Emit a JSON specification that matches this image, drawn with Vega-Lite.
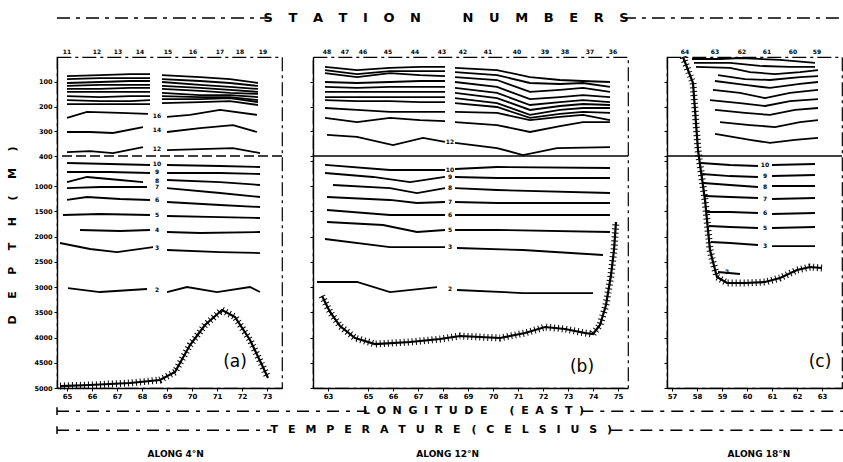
{
"$schema": "https://vega.github.io/schema/vega-lite/v6.json",
"background": "white",
"padding": {"left": 5, "top": 0, "right": 0, "bottom": 0},
"config": {
  "font": "DejaVu Sans",
  "view": {"stroke": null},
  "axis": {"labelColor": "black", "tickColor": "black", "domainColor": "black", "labelFont": "DejaVu Sans", "labelFontWeight": "bold", "labelFontSize": 7, "tickSize": 3, "grid": false, "titleColor": "black", "domainWidth": 1.4, "labelPadding": 1, "labelOverlap": false, "tickCount": 40}
},
"datasets": {
  "iso": [
    {"p":"a","id":"a1L","lon":[65.0,66.32,67.52,68.32],"depth":[77,73,69,69]},
    {"p":"a","id":"a1R","lon":[68.8,70.32,71.52,72.64],"depth":[73,81,89,105]},
    {"p":"a","id":"a2L","lon":[65.0,66.32,67.52,68.32],"depth":[89,85,85,85]},
    {"p":"a","id":"a2R","lon":[68.8,70.32,71.52,72.64],"depth":[89,97,105,117]},
    {"p":"a","id":"a3L","lon":[65.0,66.32,67.52,68.32],"depth":[105,101,97,97]},
    {"p":"a","id":"a3R","lon":[68.8,70.32,71.52,72.64],"depth":[101,113,121,129]},
    {"p":"a","id":"a4L","lon":[65.0,66.32,67.52,68.32],"depth":[117,113,113,113]},
    {"p":"a","id":"a4R","lon":[68.8,70.32,71.52,72.64],"depth":[117,125,133,141]},
    {"p":"a","id":"a5L","lon":[65.0,66.32,67.52,68.32],"depth":[129,129,125,125]},
    {"p":"a","id":"a5R","lon":[68.8,70.32,71.52,72.64],"depth":[129,137,145,149]},
    {"p":"a","id":"a6L","lon":[65.0,66.32,67.52,68.32],"depth":[141,141,141,141]},
    {"p":"a","id":"a6R","lon":[68.8,70.32,71.52,72.64],"depth":[145,154,154,162]},
    {"p":"a","id":"a7L","lon":[65.0,66.32,67.52,68.32],"depth":[158,162,158,158]},
    {"p":"a","id":"a7R","lon":[68.8,70.32,71.52,72.64],"depth":[158,162,162,174]},
    {"p":"a","id":"a8L","lon":[65.0,66.32,67.52,68.32],"depth":[174,178,178,174]},
    {"p":"a","id":"a8R","lon":[68.8,70.32,71.52,72.64],"depth":[170,170,166,182]},
    {"p":"a","id":"a9L","lon":[65.0,66.32,67.52,68.32],"depth":[190,190,190,190]},
    {"p":"a","id":"a9R","lon":[68.8,70.32,71.52,72.64],"depth":[186,182,178,194]},
    {"p":"a","id":"a10L","lon":[65.0,65.8,67.12,68.24],"depth":[246,222,226,230]},
    {"p":"a","id":"a10R","lon":[69.0,69.92,71.12,72.6],"depth":[242,234,214,234]},
    {"p":"a","id":"a11L","lon":[65.0,65.92,66.84,68.04],"depth":[303,303,307,283]},
    {"p":"a","id":"a11R","lon":[69.0,70.32,71.64,72.6],"depth":[303,287,275,303]},
    {"p":"a","id":"a12L","lon":[65.0,65.92,66.84,68.04],"depth":[384,380,388,364]},
    {"p":"a","id":"a12R","lon":[69.0,70.32,71.64,72.72],"depth":[376,372,368,388]},
    {"p":"a","id":"a13L","lon":[65.0,66.72,68.32],"depth":[539,559,578]},
    {"p":"a","id":"a13R","lon":[69.0,71.12,72.72],"depth":[578,598,618]},
    {"p":"a","id":"a14L","lon":[65.0,66.72,68.32],"depth":[717,717,737]},
    {"p":"a","id":"a14R","lon":[69.0,71.12,72.72],"depth":[737,737,757]},
    {"p":"a","id":"a15L","lon":[65.0,65.8,67.12,68.04],"depth":[916,816,876,916]},
    {"p":"a","id":"a15R","lon":[69.0,71.12,72.72],"depth":[876,916,975]},
    {"p":"a","id":"a16L","lon":[65.0,66.32,68.2],"depth":[1035,1015,1015]},
    {"p":"a","id":"a16R","lon":[69.0,71.12,72.72],"depth":[1035,1134,1213]},
    {"p":"a","id":"a17L","lon":[65.0,65.8,67.12,68.32],"depth":[1272,1213,1253,1272]},
    {"p":"a","id":"a17R","lon":[69.0,71.12,72.72],"depth":[1312,1372,1411]},
    {"p":"a","id":"a18L","lon":[64.84,66.32,68.32],"depth":[1570,1550,1570]},
    {"p":"a","id":"a18R","lon":[69.0,71.12,72.72],"depth":[1590,1610,1629]},
    {"p":"a","id":"a19L","lon":[65.52,67.12,68.32],"depth":[1867,1887,1867]},
    {"p":"a","id":"a19R","lon":[69.0,70.32,72.72],"depth":[1907,1927,1907]},
    {"p":"a","id":"a20L","lon":[64.72,65.92,67.0,68.44],"depth":[2125,2244,2304,2205]},
    {"p":"a","id":"a20R","lon":[69.0,71.12,72.72],"depth":[2264,2304,2324]},
    {"p":"a","id":"a21L","lon":[65.04,66.32,68.2],"depth":[3018,3097,3037]},
    {"p":"a","id":"a21R","lon":[69.0,69.8,71.0,72.32,72.72],"depth":[3097,2998,3097,2998,3097]},

    {"p":"b","id":"b1L","lon":[63.28,64.56,65.88,67.08,68.08],"depth":[40,53,44,40,40]},
    {"p":"b","id":"b1R","lon":[68.48,70.16,71.48,72.68,73.6,74.68],"depth":[44,53,81,93,97,101]},
    {"p":"b","id":"b2L","lon":[63.28,64.56,65.88,67.08,68.08],"depth":[53,69,57,57,57]},
    {"p":"b","id":"b2R","lon":[68.48,70.16,71.48,72.68,73.6,74.68],"depth":[61,73,105,109,105,121]},
    {"p":"b","id":"b3L","lon":[63.28,64.56,65.88,67.08,68.08],"depth":[65,81,65,73,77]},
    {"p":"b","id":"b3R","lon":[68.48,70.16,71.48,72.68,73.6,74.68],"depth":[81,93,141,133,125,141]},
    {"p":"b","id":"b4L","lon":[63.28,64.56,65.88,67.08,68.08],"depth":[101,105,101,97,97]},
    {"p":"b","id":"b4R","lon":[68.48,70.16,71.48,72.68,73.6,74.68],"depth":[101,121,170,162,154,162]},
    {"p":"b","id":"b5L","lon":[63.28,64.56,65.88,67.08,68.08],"depth":[121,125,121,121,121]},
    {"p":"b","id":"b5R","lon":[68.48,70.16,71.48,72.68,73.6,74.68],"depth":[125,145,194,182,174,182]},
    {"p":"b","id":"b6L","lon":[63.28,64.56,65.88,67.08,68.08],"depth":[141,141,141,141,141]},
    {"p":"b","id":"b6R","lon":[68.48,70.16,71.48,72.68,73.6,74.68],"depth":[145,166,214,198,190,194]},
    {"p":"b","id":"b7L","lon":[63.28,64.56,65.88,67.08,68.08],"depth":[162,162,162,162,162]},
    {"p":"b","id":"b7R","lon":[68.48,70.16,71.48,72.68,73.6,74.68],"depth":[166,186,234,214,206,206]},
    {"p":"b","id":"b8L","lon":[63.28,64.56,65.88,67.08,68.08],"depth":[174,178,178,182,182]},
    {"p":"b","id":"b8R","lon":[68.48,70.16,71.48,72.68,73.6,74.68],"depth":[186,202,246,230,222,226]},
    {"p":"b","id":"b9L","lon":[63.28,64.56,65.88,67.08,68.08],"depth":[206,214,222,222,222]},
    {"p":"b","id":"b9R","lon":[68.48,70.16,71.48,72.68,73.6,74.68],"depth":[222,226,255,242,234,255]},
    {"p":"b","id":"b10L","lon":[63.28,64.56,65.88,67.08,68.08],"depth":[246,263,246,255,259]},
    {"p":"b","id":"b10R","lon":[68.48,70.16,71.48,72.68,73.6,74.68],"depth":[263,275,303,279,263,263]},
    {"p":"b","id":"b11L","lon":[63.36,64.56,66.0,67.2,68.08],"depth":[315,323,356,327,343]},
    {"p":"b","id":"b11R","lon":[68.48,70.16,71.2,72.56,74.68],"depth":[347,368,396,368,364]},
    {"p":"b","id":"b12L","lon":[63.28,65.88,68.08],"depth":[578,678,678]},
    {"p":"b","id":"b12R","lon":[68.48,70.16,74.68],"depth":[658,618,638]},
    {"p":"b","id":"b13L","lon":[63.28,65.2,66.68,68.08],"depth":[737,816,916,816]},
    {"p":"b","id":"b13R","lon":[68.48,70.16,74.68],"depth":[816,836,836]},
    {"p":"b","id":"b14L","lon":[63.6,65.88,66.96,68.08],"depth":[975,1035,1134,1035]},
    {"p":"b","id":"b14R","lon":[68.48,70.16,74.68],"depth":[1035,1074,1134]},
    {"p":"b","id":"b15L","lon":[63.36,65.88,66.96,68.08],"depth":[1213,1272,1332,1312]},
    {"p":"b","id":"b15R","lon":[68.48,70.16,74.68],"depth":[1312,1332,1332]},
    {"p":"b","id":"b16L","lon":[63.36,65.88,68.08],"depth":[1471,1570,1570]},
    {"p":"b","id":"b16R","lon":[68.48,70.16,74.68],"depth":[1570,1570,1570]},
    {"p":"b","id":"b17L","lon":[63.36,65.6,66.96,68.08],"depth":[1709,1768,1907,1867]},
    {"p":"b","id":"b17R","lon":[68.48,70.16,74.68],"depth":[1867,1867,1907]},
    {"p":"b","id":"b18L","lon":[63.28,65.88,68.08],"depth":[2046,2205,2205]},
    {"p":"b","id":"b18R","lon":[68.56,71.2,74.4],"depth":[2224,2264,2363]},
    {"p":"b","id":"b19L","lon":[62.96,64.56,65.88,67.76],"depth":[2898,2898,3097,2998]},
    {"p":"b","id":"b19R","lon":[68.56,71.2,74.0],"depth":[3057,3117,3117]},

    {"p":"c","id":"c1","lon":[57.8,58.92,59.72,61.32,62.72],"depth":[8,8,4,12,24]},
    {"p":"c","id":"c2","lon":[57.88,59.32,60.52,61.72,62.72],"depth":[24,24,36,40,40]},
    {"p":"c","id":"c3","lon":[57.96,59.32,60.12,61.12,62.12,62.84],"depth":[40,44,61,69,61,53]},
    {"p":"c","id":"c4","lon":[58.84,59.92,60.92,62.12,62.84],"depth":[73,89,93,81,77]},
    {"p":"c","id":"c5","lon":[58.72,59.92,60.92,62.12,62.84],"depth":[97,113,125,109,101]},
    {"p":"c","id":"c6","lon":[58.64,59.72,60.72,61.72,62.84],"depth":[133,145,166,145,133]},
    {"p":"c","id":"c7","lon":[58.52,59.72,60.72,61.72,62.84],"depth":[174,186,198,178,170]},
    {"p":"c","id":"c8","lon":[58.72,59.92,60.92,61.92,62.84],"depth":[214,226,234,214,206]},
    {"p":"c","id":"c9","lon":[58.92,60.12,61.12,62.12,62.84],"depth":[263,275,283,263,255]},
    {"p":"c","id":"c10","lon":[58.72,60.12,60.92,61.92,62.84],"depth":[311,335,347,335,327]},
    {"p":"c","id":"c11L","lon":[58.16,59.32,60.44],"depth":[539,578,598]},
    {"p":"c","id":"c11R","lon":[61.0,62.72],"depth":[578,559]},
    {"p":"c","id":"c12L","lon":[58.2,59.32,60.44],"depth":[757,797,816]},
    {"p":"c","id":"c12R","lon":[61.0,62.72],"depth":[797,777]},
    {"p":"c","id":"c13L","lon":[58.24,59.32,60.44],"depth":[935,975,1015]},
    {"p":"c","id":"c13R","lon":[61.0,62.72],"depth":[995,995]},
    {"p":"c","id":"c14L","lon":[58.32,59.32,60.44],"depth":[1193,1213,1233]},
    {"p":"c","id":"c14R","lon":[61.0,62.72],"depth":[1253,1233]},
    {"p":"c","id":"c15L","lon":[58.4,59.32,60.44],"depth":[1510,1510,1530]},
    {"p":"c","id":"c15R","lon":[61.0,62.72],"depth":[1550,1530]},
    {"p":"c","id":"c16L","lon":[58.48,59.32,60.44],"depth":[1788,1808,1828]},
    {"p":"c","id":"c16R","lon":[61.0,62.72],"depth":[1828,1808]},
    {"p":"c","id":"c17L","lon":[58.56,59.32,60.44],"depth":[2105,2125,2165]},
    {"p":"c","id":"c17R","lon":[61.0,62.72],"depth":[2185,2185]},
    {"p":"c","id":"c18","lon":[58.84,59.72],"depth":[2700,2740]}
  ],
  "bot": [
    {"p":"a","lon":[64.72,65.92,67.52,68.72,69.32,69.92,70.52,71.2,71.72,72.32,72.8,73.04],"depth":[4961,4941,4901,4842,4683,4148,3751,3454,3592,4048,4544,4802]},
    {"p":"b","lon":[63.16,63.48,63.88,64.48,65.28,66.68,67.88,68.68,69.48,70.28,71.28,72.08,72.88,73.68,74.0,74.28,74.52,74.72,74.84,74.92],"depth":[3176,3493,3771,4009,4128,4088,4029,3969,3989,4009,3910,3791,3830,3910,3929,3751,3354,2760,2264,1709]},
    {"p":"c","lon":[57.44,57.84,58.04,58.32,58.52,58.64,58.8,59.2,59.92,60.72,61.32,62.0,62.52,63.0],"depth":[0,105,376,1272,2264,2502,2799,2918,2918,2898,2819,2661,2601,2621]}
  ],
  "st": [
    {"p":"a","s":"11","lon":65.0},{"p":"a","s":"12","lon":66.2},{"p":"a","s":"13","lon":67.04},{"p":"a","s":"14","lon":67.92},{"p":"a","s":"15","lon":69.04},{"p":"a","s":"16","lon":70.04},{"p":"a","s":"17","lon":71.12},{"p":"a","s":"18","lon":71.92},{"p":"a","s":"19","lon":72.84},
    {"p":"b","s":"48","lon":63.36},{"p":"b","s":"47","lon":64.08},{"p":"b","s":"46","lon":64.8},{"p":"b","s":"45","lon":65.8},{"p":"b","s":"44","lon":66.88},{"p":"b","s":"43","lon":67.96},{"p":"b","s":"42","lon":68.8},{"p":"b","s":"41","lon":69.8},{"p":"b","s":"40","lon":70.96},{"p":"b","s":"39","lon":72.08},{"p":"b","s":"38","lon":72.88},{"p":"b","s":"37","lon":73.88},{"p":"b","s":"36","lon":74.8},
    {"p":"c","s":"64","lon":57.52},{"p":"c","s":"63","lon":58.72},{"p":"c","s":"62","lon":59.8},{"p":"c","s":"61","lon":60.8},{"p":"c","s":"60","lon":61.84},{"p":"c","s":"59","lon":62.8}
  ],
  "tl": [
    {"p":"a","t":"16","lon":68.6,"depth":238},{"p":"a","t":"14","lon":68.6,"depth":295},{"p":"a","t":"12","lon":68.6,"depth":372},
    {"p":"a","t":"10","lon":68.6,"depth":559},{"p":"a","t":"9","lon":68.6,"depth":727},{"p":"a","t":"8","lon":68.6,"depth":896},
    {"p":"a","t":"7","lon":68.6,"depth":1015},{"p":"a","t":"6","lon":68.6,"depth":1272},{"p":"a","t":"5","lon":68.6,"depth":1570},
    {"p":"a","t":"4","lon":68.6,"depth":1867},{"p":"a","t":"3","lon":68.6,"depth":2224},{"p":"a","t":"2","lon":68.6,"depth":3057},
    {"p":"b","t":"12","lon":68.28,"depth":345},{"p":"b","t":"10","lon":68.28,"depth":668},{"p":"b","t":"9","lon":68.28,"depth":816},
    {"p":"b","t":"8","lon":68.28,"depth":1035},{"p":"b","t":"7","lon":68.28,"depth":1312},{"p":"b","t":"6","lon":68.28,"depth":1570},
    {"p":"b","t":"5","lon":68.28,"depth":1867},{"p":"b","t":"3","lon":68.28,"depth":2205},{"p":"b","t":"2","lon":68.28,"depth":3037},
    {"p":"c","t":"10","lon":60.72,"depth":588},{"p":"c","t":"9","lon":60.72,"depth":806},{"p":"c","t":"8","lon":60.72,"depth":1005},
    {"p":"c","t":"7","lon":60.72,"depth":1243},{"p":"c","t":"6","lon":60.72,"depth":1540},{"p":"c","t":"5","lon":60.72,"depth":1818},
    {"p":"c","t":"3","lon":60.72,"depth":2175},{"p":"c","t":"2","lon":59.2,"depth":2700}
  ]
},
"bounds": "full",
"spacing": 4,
"vconcat": [
  {
    "width": 786, "height": 38,
    "view": {"stroke": null},
    "data": {"values": [{}]},
    "layer": [
      {"mark": {"type": "rule", "color": "black", "strokeWidth": 1.6, "strokeDash": [13, 6, 4, 6]},
       "encoding": {"x": {"datum": 0, "type": "quantitative", "scale": {"domain": [0, 100], "nice": false}, "axis": null}, "x2": {"datum": 27}, "y": {"datum": 47.4, "type": "quantitative", "scale": {"domain": [0, 100], "reverse": true, "nice": false}, "axis": null}}},
      {"mark": {"type": "rule", "color": "black", "strokeWidth": 1.6, "strokeDash": [13, 6, 4, 6]},
       "encoding": {"x": {"datum": 72, "type": "quantitative", "axis": null}, "x2": {"datum": 100}, "y": {"datum": 47.4, "type": "quantitative", "axis": null}}},
      {"mark": {"type": "text", "fontSize": 13, "fontWeight": "bold", "align": "center", "baseline": "middle", "color": "black"},
       "encoding": {"x": {"datum": 49.5, "type": "quantitative", "axis": null}, "y": {"datum": 47.4, "type": "quantitative", "axis": null},
         "text": {"value": "S\u2003\u2009T\u2003\u2009A\u2003\u2009T\u2003\u2009I\u2003\u2009O\u2003\u2009N\u2003\u2003\u2003\u2009N\u2003\u2009U\u2003\u2009M\u2003\u2009B\u2003\u2009E\u2003\u2009R\u2003\u2009S"}}}
    ]
  },
  {
    "bounds": "flush",
    "spacing": 31,
    "hconcat": [
      {
        "width": 225, "height": 331,
        "view": {"stroke": "black", "strokeWidth": 1.2, "strokeDash": [14, 4, 3, 4]},
        "layer": [
          {"data": {"name": "iso"}, "transform": [{"filter": "datum.p === 'a'"}, {"flatten": ["lon", "depth"]}],
           "mark": {"type": "line", "color": "black", "strokeWidth": 1.8},
           "encoding": {
             "x": {"field": "lon", "type": "quantitative", "scale": {"domain": [64.6, 73.6], "nice": false, "zero": false},
                   "axis": {"values": [65, 66, 67, 68, 69, 70, 71, 72, 73], "format": "d", "title": null, "labelOverlap": false, "tickCount": 40}},
             "y": {"field": "depth", "type": "quantitative", "scale": {"domain": [0, 400, 5000], "range": [0, 99, 331], "nice": false, "zero": false},
                   "axis": {"values": [100, 200, 300, 400, 1000, 1500, 2000, 2500, 3000, 3500, 4000, 4500, 5000], "format": "d", "labelFontSize": 6.5, "labelPadding": 2, "labelOverlap": false, "tickCount": 40,
                            "title": "D\u2003\u2002E\u2003\u2002P\u2003\u2002T\u2003\u2002H\u2003\u2002(\u2003\u2002M\u2003\u2002)", "titleFontSize": 11, "titleFontWeight": "bold", "titleX": -45, "titleY": 178, "titleAngle": 270, "titleAlign": "center", "titleBaseline": "middle"}},
             "detail": {"field": "id"}
           }},
          {"data": {"values": [{}]}, "mark": {"type": "rule", "color": "black", "strokeWidth": 1.3, "strokeDash": [10, 4]},
           "encoding": {"y": {"datum": 400, "type": "quantitative"}}},
          {"data": {"name": "bot"}, "transform": [{"filter": "datum.p === 'a'"}, {"flatten": ["lon", "depth"]}],
           "mark": {"type": "line", "color": "black", "strokeWidth": 2.2},
           "encoding": {"x": {"field": "lon", "type": "quantitative"}, "y": {"field": "depth", "type": "quantitative"}}},
          {"data": {"name": "bot"}, "transform": [{"filter": "datum.p === 'a'"}, {"flatten": ["lon", "depth"]}],
           "mark": {"type": "line", "color": "black", "strokeWidth": 7, "strokeDash": [1, 3]},
           "encoding": {"x": {"field": "lon", "type": "quantitative"}, "y": {"field": "depth", "type": "quantitative"}}},
          {"data": {"name": "st"}, "transform": [{"filter": "datum.p === 'a'"}],
           "mark": {"type": "text", "fontSize": 6, "fontWeight": "bold", "baseline": "bottom", "dy": -2, "color": "black"},
           "encoding": {"x": {"field": "lon", "type": "quantitative"}, "y": {"datum": 0, "type": "quantitative"}, "text": {"field": "s"}}},
          {"data": {"name": "tl"}, "transform": [{"filter": "datum.p === 'a'"}],
           "mark": {"type": "text", "fontSize": 6, "fontWeight": "bold", "baseline": "middle", "color": "black"},
           "encoding": {"x": {"field": "lon", "type": "quantitative"}, "y": {"field": "depth", "type": "quantitative"}, "text": {"field": "t"}}},
          {"data": {"values": [{}]}, "mark": {"type": "text", "fontSize": 17, "align": "center", "baseline": "middle", "color": "black"},
           "encoding": {"x": {"datum": 71.72, "type": "quantitative"}, "y": {"datum": 4485, "type": "quantitative"}, "text": {"value": "(a)"}}}
        ]
      },
      {
        "bounds": "flush",
        "spacing": 39,
        "hconcat": [
          {
            "width": 315, "height": 331,
            "view": {"stroke": "black", "strokeWidth": 1.2, "strokeDash": [14, 4, 3, 4]},
            "layer": [
              {"data": {"name": "iso"}, "transform": [{"filter": "datum.p === 'b'"}, {"flatten": ["lon", "depth"]}],
               "mark": {"type": "line", "color": "black", "strokeWidth": 1.8},
               "encoding": {
                 "x": {"field": "lon", "type": "quantitative", "scale": {"domain": [62.8, 75.4], "nice": false, "zero": false},
                       "axis": {"values": [63.4, 65, 66, 67, 68, 69, 70, 71, 72, 73, 74, 75], "format": ".0f", "title": null, "labelOverlap": false, "tickCount": 40}},
                 "y": {"field": "depth", "type": "quantitative", "scale": {"domain": [0, 400, 5000], "range": [0, 99, 331], "nice": false, "zero": false},
                       "axis": {"values": [100, 200, 300, 400, 500, 1000, 1500, 2000, 2500, 3000, 3500, 4000, 4500, 5000], "labels": false, "title": null, "tickCount": 40}},
                 "detail": {"field": "id"}
               }},
              {"data": {"values": [{}]}, "mark": {"type": "rule", "color": "black", "strokeWidth": 1.3},
               "encoding": {"y": {"datum": 400, "type": "quantitative"}}},
              {"data": {"name": "bot"}, "transform": [{"filter": "datum.p === 'b'"}, {"flatten": ["lon", "depth"]}],
               "mark": {"type": "line", "color": "black", "strokeWidth": 2.2},
               "encoding": {"x": {"field": "lon", "type": "quantitative"}, "y": {"field": "depth", "type": "quantitative"}}},
              {"data": {"name": "bot"}, "transform": [{"filter": "datum.p === 'b'"}, {"flatten": ["lon", "depth"]}],
               "mark": {"type": "line", "color": "black", "strokeWidth": 7, "strokeDash": [1, 3]},
               "encoding": {"x": {"field": "lon", "type": "quantitative"}, "y": {"field": "depth", "type": "quantitative"}}},
              {"data": {"name": "st"}, "transform": [{"filter": "datum.p === 'b'"}],
               "mark": {"type": "text", "fontSize": 6, "fontWeight": "bold", "baseline": "bottom", "dy": -2, "color": "black"},
               "encoding": {"x": {"field": "lon", "type": "quantitative"}, "y": {"datum": 0, "type": "quantitative"}, "text": {"field": "s"}}},
              {"data": {"name": "tl"}, "transform": [{"filter": "datum.p === 'b'"}],
               "mark": {"type": "text", "fontSize": 6, "fontWeight": "bold", "baseline": "middle", "color": "black"},
               "encoding": {"x": {"field": "lon", "type": "quantitative"}, "y": {"field": "depth", "type": "quantitative"}, "text": {"field": "t"}}},
              {"data": {"values": [{}]}, "mark": {"type": "text", "fontSize": 17, "align": "center", "baseline": "middle", "color": "black"},
               "encoding": {"x": {"datum": 73.56, "type": "quantitative"}, "y": {"datum": 4584, "type": "quantitative"}, "text": {"value": "(b)"}}}
            ]
          },
          {
            "width": 175, "height": 331,
            "view": {"stroke": "black", "strokeWidth": 1.2, "strokeDash": [14, 4, 3, 4]},
            "layer": [
              {"data": {"name": "iso"}, "transform": [{"filter": "datum.p === 'c'"}, {"flatten": ["lon", "depth"]}],
               "mark": {"type": "line", "color": "black", "strokeWidth": 1.8},
               "encoding": {
                 "x": {"field": "lon", "type": "quantitative", "scale": {"domain": [56.8, 63.8], "nice": false, "zero": false},
                       "axis": {"values": [57, 58, 59, 60, 61, 62, 63], "format": "d", "title": null, "labelOverlap": false, "tickCount": 40}},
                 "y": {"field": "depth", "type": "quantitative", "scale": {"domain": [0, 400, 5000], "range": [0, 99, 331], "nice": false, "zero": false},
                       "axis": {"values": [100, 200, 300, 400, 500, 1000, 1500, 2000, 2500, 3000, 3500, 4000, 4500, 5000], "labels": false, "title": null, "tickCount": 40}},
                 "detail": {"field": "id"}
               }},
              {"data": {"values": [{}]}, "mark": {"type": "rule", "color": "black", "strokeWidth": 1.3},
               "encoding": {"y": {"datum": 400, "type": "quantitative"}}},
              {"data": {"name": "bot"}, "transform": [{"filter": "datum.p === 'c'"}, {"flatten": ["lon", "depth"]}],
               "mark": {"type": "line", "color": "black", "strokeWidth": 2.2},
               "encoding": {"x": {"field": "lon", "type": "quantitative"}, "y": {"field": "depth", "type": "quantitative"}}},
              {"data": {"name": "bot"}, "transform": [{"filter": "datum.p === 'c'"}, {"flatten": ["lon", "depth"]}],
               "mark": {"type": "line", "color": "black", "strokeWidth": 7, "strokeDash": [1, 3]},
               "encoding": {"x": {"field": "lon", "type": "quantitative"}, "y": {"field": "depth", "type": "quantitative"}}},
              {"data": {"name": "st"}, "transform": [{"filter": "datum.p === 'c'"}],
               "mark": {"type": "text", "fontSize": 6, "fontWeight": "bold", "baseline": "bottom", "dy": -2, "color": "black"},
               "encoding": {"x": {"field": "lon", "type": "quantitative"}, "y": {"datum": 0, "type": "quantitative"}, "text": {"field": "s"}}},
              {"data": {"name": "tl"}, "transform": [{"filter": "datum.p === 'c'"}],
               "mark": {"type": "text", "fontSize": 6, "fontWeight": "bold", "baseline": "middle", "color": "black"},
               "encoding": {"x": {"field": "lon", "type": "quantitative"}, "y": {"field": "depth", "type": "quantitative"}, "text": {"field": "t"}}},
              {"data": {"values": [{}]}, "mark": {"type": "text", "fontSize": 17, "align": "center", "baseline": "middle", "color": "black"},
               "encoding": {"x": {"datum": 62.92, "type": "quantitative"}, "y": {"datum": 4485, "type": "quantitative"}, "text": {"value": "(c)"}}}
            ]
          }
        ]
      }
    ]
  },
  {
    "width": 786, "height": 56,
    "view": {"stroke": null},
    "data": {"values": [{}]},
    "layer": [
      {"mark": {"type": "rule", "color": "black", "strokeWidth": 1.5, "strokeDash": [12, 7, 4, 7]},
       "encoding": {"x": {"datum": 0, "type": "quantitative", "scale": {"domain": [0, 100], "nice": false}, "axis": null}, "x2": {"datum": 39.4}, "y": {"datum": 11, "type": "quantitative", "scale": {"domain": [0, 100], "reverse": true, "nice": false}, "axis": null}}},
      {"mark": {"type": "rule", "color": "black", "strokeWidth": 1.5, "strokeDash": [12, 7, 4, 7]},
       "encoding": {"x": {"datum": 66.7, "type": "quantitative", "axis": null}, "x2": {"datum": 100}, "y": {"datum": 11, "type": "quantitative", "axis": null}}},
      {"mark": {"type": "rule", "color": "black", "strokeWidth": 1.5, "strokeDash": [12, 7, 4, 7]},
       "encoding": {"x": {"datum": 0, "type": "quantitative", "axis": null}, "x2": {"datum": 27.3}, "y": {"datum": 45, "type": "quantitative", "axis": null}}},
      {"mark": {"type": "rule", "color": "black", "strokeWidth": 1.5, "strokeDash": [12, 7, 4, 7]},
       "encoding": {"x": {"datum": 70.4, "type": "quantitative", "axis": null}, "x2": {"datum": 100}, "y": {"datum": 45, "type": "quantitative", "axis": null}}},
      {"mark": {"type": "rule", "color": "black", "strokeWidth": 1.5},
       "encoding": {"x": {"datum": 0, "type": "quantitative", "axis": null}, "y": {"datum": 4, "type": "quantitative", "axis": null}, "y2": {"datum": 18}}},
      {"mark": {"type": "rule", "color": "black", "strokeWidth": 1.5},
       "encoding": {"x": {"datum": 0, "type": "quantitative", "axis": null}, "y": {"datum": 38, "type": "quantitative", "axis": null}, "y2": {"datum": 52}}},
      {"mark": {"type": "text", "fontSize": 11, "fontWeight": "bold", "align": "center", "baseline": "middle", "color": "black"},
       "encoding": {"x": {"datum": 53, "type": "quantitative", "axis": null}, "y": {"datum": 11, "type": "quantitative", "axis": null},
         "text": {"value": "L\u2002\u200aO\u2002\u200aN\u2002\u200aG\u2002\u200aI\u2002\u200aT\u2002\u200aU\u2002\u200aD\u2002\u200aE\u2003\u2003(\u2002\u200aE\u2002\u200aA\u2002\u200aS\u2002\u200aT\u2002\u200a)"}}},
      {"mark": {"type": "text", "fontSize": 11, "fontWeight": "bold", "align": "center", "baseline": "middle", "color": "black"},
       "encoding": {"x": {"datum": 48.9, "type": "quantitative", "axis": null}, "y": {"datum": 45, "type": "quantitative", "axis": null},
         "text": {"value": "T\u2002\u2009\u2009E\u2002\u2009\u2009M\u2002\u2009\u2009P\u2002\u2009\u2009E\u2002\u2009\u2009R\u2002\u2009\u2009A\u2002\u2009\u2009T\u2002\u2009\u2009U\u2002\u2009\u2009R\u2002\u2009\u2009E\u2003(\u2002\u2009\u2009C\u2002\u2009\u2009E\u2002\u2009\u2009L\u2002\u2009\u2009S\u2002\u2009\u2009I\u2002\u2009\u2009U\u2002\u2009\u2009S\u2002\u2009\u2009)"}}},
      {"mark": {"type": "text", "fontSize": 9, "fontWeight": "bold", "align": "center", "baseline": "middle", "color": "black"},
       "encoding": {"x": {"datum": 15.1, "type": "quantitative", "axis": null}, "y": {"datum": 87.5, "type": "quantitative", "axis": null}, "text": {"value": "ALONG 4°N"}}},
      {"mark": {"type": "text", "fontSize": 9, "fontWeight": "bold", "align": "center", "baseline": "middle", "color": "black"},
       "encoding": {"x": {"datum": 49.7, "type": "quantitative", "axis": null}, "y": {"datum": 87.5, "type": "quantitative", "axis": null}, "text": {"value": "ALONG 12°N"}}},
      {"mark": {"type": "text", "fontSize": 9, "fontWeight": "bold", "align": "center", "baseline": "middle", "color": "black"},
       "encoding": {"x": {"datum": 89.3, "type": "quantitative", "axis": null}, "y": {"datum": 87.5, "type": "quantitative", "axis": null}, "text": {"value": "ALONG 18°N"}}}
    ]
  }
]
}
